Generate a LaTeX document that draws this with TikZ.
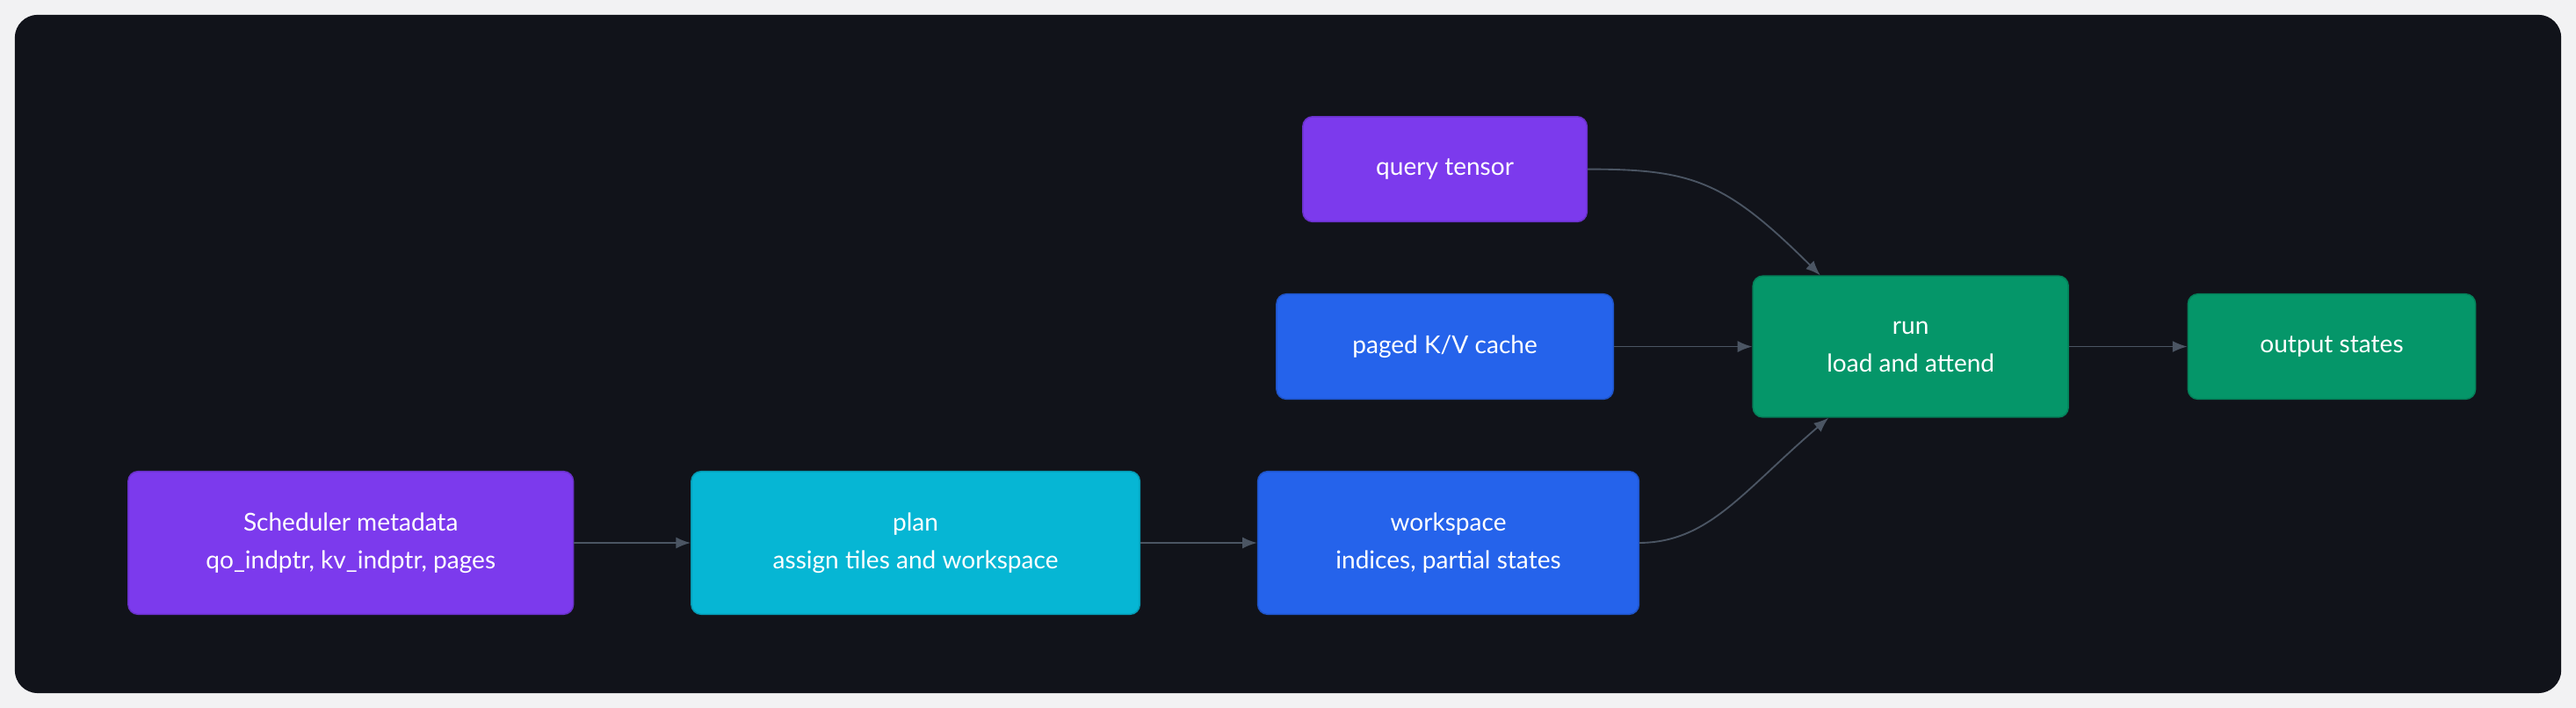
\documentclass[tikz,border=0pt]{standalone}
\usepackage{fontspec}
\setmainfont{Lato}
\usetikzlibrary{arrows.meta,positioning}
\definecolor{panelbg}{HTML}{11131A}
\definecolor{pagebg}{HTML}{F2F2F3}
\definecolor{violetbox}{HTML}{7C3AED}
\definecolor{bluebox}{HTML}{2563EB}
\definecolor{cyanbox}{HTML}{06B6D4}
\definecolor{greenbox}{HTML}{059669}
\definecolor{wire}{HTML}{4B5563}
\tikzset{
  box/.style={rectangle,rounded corners=6pt,draw=#1!85!black,fill=#1,text=white,
    font=\fontsize{15}{23}\selectfont,align=center,inner sep=0pt,line width=0.8pt},
  flow/.style={-{Latex[length=9pt,width=7pt]},draw=wire,line width=1pt}
}
\begin{document}
\begin{tikzpicture}[x=1pt,y=-1pt]
  \useasboundingbox[fill=pagebg] (0,0) rectangle (1568,431);
  \fill[panelbg,rounded corners=14pt] (9,9) rectangle (1559,422);
  % sources
  \node[box=violetbox,minimum width=271pt,minimum height=87pt] (sched) at (213.5,330.5) {Scheduler metadata\\qo\_indptr, kv\_indptr, pages};
  \node[box=cyanbox,minimum width=273pt,minimum height=87pt,right=71pt of sched] (plan) {plan\\assign tiles and workspace};
  \node[box=bluebox,minimum width=232pt,minimum height=87pt,right=71pt of plan] (work) {workspace\\indices, partial states};
  \node[box=violetbox,minimum width=173pt,minimum height=64pt] (query) at (879.5,103) {query tensor};
  \node[box=bluebox,minimum width=205pt,minimum height=64pt] (kvcache) at (879.5,211) {paged K/V cache};
  % run stage
  \node[box=greenbox,minimum width=192pt,minimum height=86pt] (run) at (1163,211) {run\\load and attend};
  \node[box=greenbox,minimum width=175pt,minimum height=64pt,right=72pt of run] (out) {output states};
  \draw[flow] (sched) -- (plan);
  \draw[flow] (plan) -- (work);
  \draw[flow] (kvcache) -- (run);
  \draw[flow] (run) -- (out);
  \draw[flow] (query.east) .. controls (1030,103) and (1050,110) .. ([xshift=-55pt]run.north);
  \draw[flow] (work.east) .. controls (1040,330) and (1060,300) .. ([xshift=-50pt]run.south);
\end{tikzpicture}
\end{document}
